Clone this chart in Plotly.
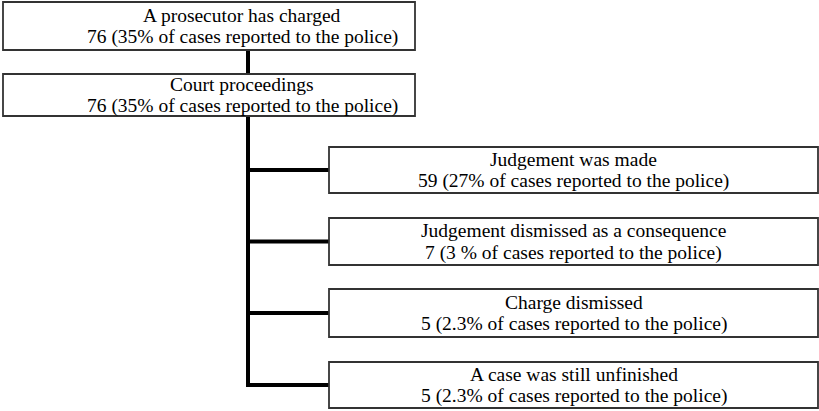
import plotly.graph_objects as go

# Data
top_titles = ["A prosecutor has charged", "Court proceedings"]
top_counts = [76, 76]
top_pcts = ["35%", "35%"]

child_titles = ["Judgement was made",
                "Judgement dismissed as a consequence",
                "Charge dismissed",
                "A case was still unfinished"]
child_counts = [59, 7, 5, 5]
child_pcts = ["27%", "3 %", "2.3%", "2.3%"]

W, H = 819, 411
FONT = dict(family="Liberation Serif", size=19.5, color="#000000")
BORDER = dict(color="#333333", width=1.8)
CONN = dict(color="#000000", width=4)
LINE_GAP = 22

# layout geometry (pixels)
top_boxes = [(3, 2, 415, 50), (3, 74, 415, 116)]
child_boxes = [(329, 147, 818, 193), (329, 218, 818, 265),
               (329, 289, 818, 337), (329, 362, 818, 408)]
trunk_x = 248

shapes = []
annotations = []


def add_text(xc, ym, line1, line2):
    for txt, yy in ((line1, ym - LINE_GAP / 2), (line2, ym + LINE_GAP / 2)):
        annotations.append(dict(x=xc, y=yy, xref="x", yref="y", text=txt,
                                showarrow=False, font=FONT,
                                xanchor="center", yanchor="middle"))


shapes.append(dict(type="line", x0=trunk_x, x1=trunk_x, y0=50, y1=74, line=CONN, layer="below"))
last_y = (child_boxes[-1][1] + child_boxes[-1][3]) / 2
shapes.append(dict(type="line", x0=trunk_x, x1=trunk_x, y0=116, y1=last_y + 2, line=CONN, layer="below"))

for (x0, y0, x1, y1), t, c, p in zip(top_boxes, top_titles, top_counts, top_pcts):
    shapes.append(dict(type="rect", x0=x0, x1=x1, y0=y0, y1=y1, line=BORDER, fillcolor="white"))
    add_text(242, (y0 + y1) / 2, t, f"{c} ({p} of cases reported to the police)")

for (x0, y0, x1, y1), t, c, p in zip(child_boxes, child_titles, child_counts, child_pcts):
    ym = (y0 + y1) / 2
    shapes.append(dict(type="line", x0=trunk_x - 2, x1=x0, y0=ym, y1=ym, line=CONN, layer="below"))
    shapes.append(dict(type="rect", x0=x0, x1=x1, y0=y0, y1=y1, line=BORDER, fillcolor="white"))
    add_text((x0 + x1) / 2, ym, t, f"{c} ({p} of cases reported to the police)")

fig = go.Figure()
fig.update_layout(
    width=W, height=H,
    margin=dict(l=0, r=0, t=0, b=0),
    paper_bgcolor="white", plot_bgcolor="white",
    xaxis=dict(range=[0, W], visible=False, fixedrange=True),
    yaxis=dict(range=[H, 0], visible=False, fixedrange=True),
    shapes=shapes, annotations=annotations, showlegend=False,
)
fig.write_html("out.html", config={"displayModeBar": False},
               post_script="document.body.style.margin='0';document.body.style.overflow='hidden';")
